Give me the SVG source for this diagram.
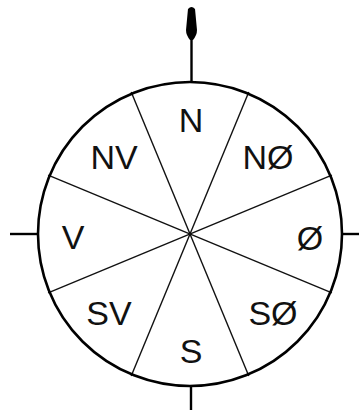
<svg xmlns="http://www.w3.org/2000/svg" width="359" height="410" viewBox="0 0 359 410">
<style>
.ring{fill:none;stroke:#000;stroke-width:2.6}
.div{stroke:#111;stroke-width:1.4}
.tick{stroke:#000;stroke-width:2.4}
.lbl{font-family:"Liberation Sans",Arial,sans-serif;font-size:34px;fill:#111;text-anchor:middle}
</style>
<rect width="359" height="410" fill="#fff"/>
<g id="connectors">
<line class="div" x1="131.2" y1="92.1" x2="248.8" y2="375.9"/>
<line class="div" x1="248.8" y1="92.1" x2="131.2" y2="375.9"/>
<line class="div" x1="48.1" y1="175.2" x2="331.9" y2="292.8"/>
<line class="div" x1="331.9" y1="175.2" x2="48.1" y2="292.8"/>
<line class="tick" x1="10" y1="234" x2="38" y2="234"/>
<line class="tick" x1="342" y1="234" x2="359" y2="234"/>
<line class="tick" x1="191" y1="386" x2="191" y2="410"/>
<line class="tick" x1="191.5" y1="36" x2="191.5" y2="83"/>
<path d="M188 9 Q191.5 5 195 9 L197 30 Q197 35 193 40 L190 40 Q186 35 186 30 Z" fill="#000"/>
</g>
<g id="ring"><circle class="ring" cx="190" cy="234" r="152"/></g>
<g id="N"><text class="lbl" x="191" y="132">N</text></g>
<g id="NO"><text class="lbl" x="268" y="169">NØ</text></g>
<g id="O"><text class="lbl" x="310" y="250">Ø</text></g>
<g id="SO"><text class="lbl" x="273" y="325">SØ</text></g>
<g id="S"><text class="lbl" x="191" y="363">S</text></g>
<g id="SV"><text class="lbl" x="109" y="325">SV</text></g>
<g id="V"><text class="lbl" x="73" y="249">V</text></g>
<g id="NV"><text class="lbl" x="114" y="169">NV</text></g>
</svg>
